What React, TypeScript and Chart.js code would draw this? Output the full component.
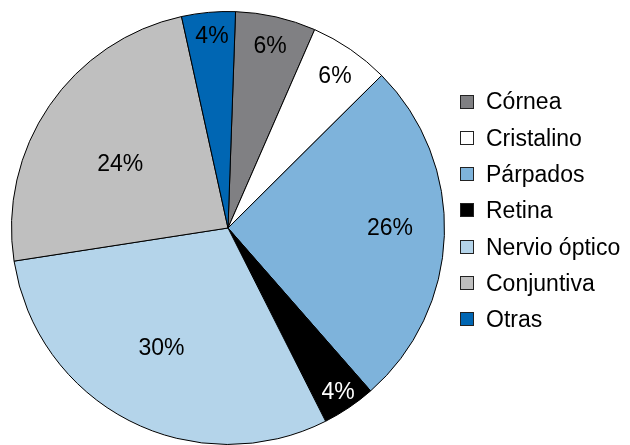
import React, { useEffect, useRef } from "react";
import { Chart, registerables } from "chart.js";

Chart.register(...registerables);

const categories = ["Córnea", "Cristalino", "Párpados", "Retina", "Nervio óptico", "Conjuntiva", "Otras"];
const values = [6, 6, 26, 4, 30, 24, 4];
const valueLabels = ["6%", "6%", "26%", "4%", "30%", "24%", "4%"];
const colors = ["#808083", "#ffffff", "#7eb3db", "#000000", "#b4d4ea", "#bfbfbf", "#0066b3"];
const labelColors = ["#000", "#000", "#000", "#fff", "#000", "#000", "#000"];
// label placement (fraction of radius, angle nudge in degrees) – layout only
const labelRadius = [0.858, 0.855, 0.748, 0.916, 0.636, 0.577, 0.885];
const labelNudge = [0.3, 0.9, -1.8, 0.3, 1.7, -4.1, 0.4];

const FONT = "'Liberation Sans', Arial, sans-serif";

const sliceLabels = {
  id: "sliceLabels",
  afterDatasetsDraw(chart: any) {
    const ctx = chart.ctx;
    const meta = chart.getDatasetMeta(0);
    ctx.save();
    ctx.font = `23px ${FONT}`;
    ctx.textAlign = "center";
    ctx.textBaseline = "middle";
    meta.data.forEach((arc: any, i: number) => {
      const p = arc.getProps(["x", "y", "startAngle", "endAngle", "outerRadius"], true);
      const mid = (p.startAngle + p.endAngle) / 2 + (labelNudge[i] * Math.PI) / 180;
      const r = p.outerRadius * labelRadius[i];
      ctx.fillStyle = labelColors[i];
      ctx.fillText(valueLabels[i], p.x + Math.cos(mid) * r, p.y + Math.sin(mid) * r);
    });
    ctx.restore();
  },
};

const sideLegend = {
  id: "sideLegend",
  afterDraw(chart: any) {
    const ctx = chart.ctx;
    ctx.save();
    ctx.font = `23px ${FONT}`;
    ctx.textBaseline = "middle";
    ctx.textAlign = "left";
    categories.forEach((c, i) => {
      const y = 103 + i * 36.3;
      const by = Math.round(y - 1.5);
      ctx.fillStyle = colors[i];
      ctx.fillRect(461, by - 6, 13, 12);
      ctx.strokeStyle = "#222";
      ctx.lineWidth = 1;
      ctx.strokeRect(460.5, by - 6.5, 13, 13);
      ctx.fillStyle = "#000";
      ctx.fillText(c, 486, y);
    });
    ctx.restore();
  },
};

export default function App() {
  const ref = useRef<HTMLCanvasElement>(null);
  useEffect(() => {
    if (!ref.current) return;
    const chart = new Chart(ref.current, {
      type: "pie",
      data: {
        labels: categories,
        datasets: [
          {
            data: values,
            backgroundColor: colors,
            borderColor: "#000",
            borderWidth: 1,
          },
        ],
      },
      options: {
        responsive: false,
        animation: false,
        rotation: 2,
        layout: { padding: { left: 10, top: 11, right: 184, bottom: 0 } },
        plugins: {
          legend: { display: false },
          tooltip: { enabled: false },
        },
      },
      plugins: [sliceLabels, sideLegend],
    });
    return () => chart.destroy();
  }, []);
  return (
    <div style={{ position: "absolute", left: 0, top: 0, width: 630, height: 445, background: "#fff" }}>
      <canvas ref={ref} width={630} height={445} />
    </div>
  );
}
